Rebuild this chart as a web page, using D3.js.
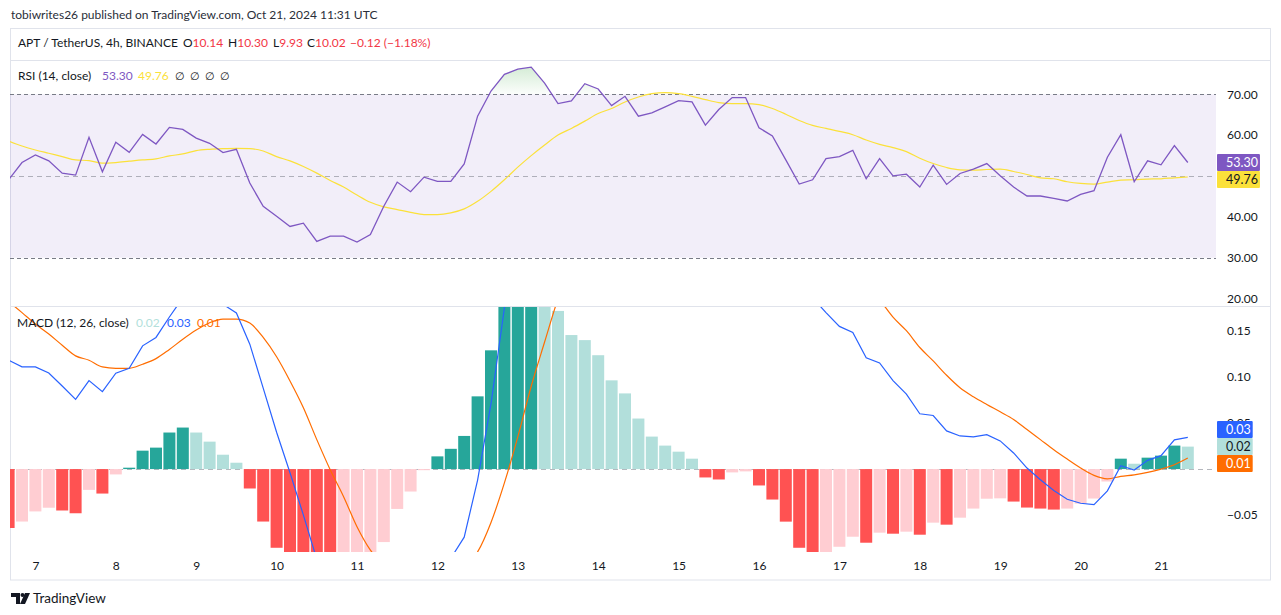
<!DOCTYPE html>
<html lang="en">
<head>
<meta charset="utf-8">
<title>APT / TetherUS, 4h - RSI and MACD</title>
<script src="https://cdn.jsdelivr.net/npm/d3@7/dist/d3.min.js"></script>
<style>
  body { margin: 0; background: #fff; }
  svg { display: block; font-family: Lato, "Noto Sans", sans-serif; }
</style>
</head>
<body>
<svg id="chart" width="1281" height="615"></svg>
<script>
// 4h bars, first one Oct 6 16:00 UTC, last one Oct 21 08:00 UTC
var firstBar = Date.UTC(2024, 9, 6, 16);
var barCount = 89;

var rsi = [49.08, 53.29, 55.16, 53.70, 50.70, 50.21, 59.46, 51.02, 58.24, 55.81,
           60.19, 57.83, 61.89, 61.40, 59.29, 58.00, 55.73, 56.54, 48.27, 42.59,
           40.15, 37.64, 38.45, 33.99, 35.29, 35.29, 33.83, 35.69, 42.59, 48.51,
           46.16, 49.72, 48.67, 48.67, 52.97, 64.65, 70.81, 74.87, 76.16, 76.65,
           72.76, 67.73, 68.38, 72.60, 71.30, 67.24, 69.51, 64.65, 65.46, 66.92,
           68.46, 68.13, 62.46, 66.27, 69.19, 69.19, 61.81, 59.78, 53.94, 48.02,
           49.08, 54.27, 54.75, 56.29, 49.32, 54.27, 50.05, 50.45, 47.29, 52.64,
           47.94, 50.62, 51.67, 53.05, 50.05, 47.29, 45.10, 45.10, 44.53, 43.89,
           45.51, 46.40, 54.59, 60.11, 48.59, 53.70, 52.73, 57.43, 53.30];

var rsiMa = [58.56, 57.35, 56.37, 55.56, 54.75, 53.94, 53.78, 53.13, 53.29, 53.62,
             53.94, 54.19, 54.92, 55.40, 56.21, 56.54, 56.70, 56.78, 56.70, 56.13,
             54.75, 53.70, 52.32, 50.70, 48.91, 47.29, 45.34, 43.56, 42.43, 41.78,
             41.10, 40.56, 40.56, 40.97, 41.94, 43.80, 46.24, 49.08, 52.16, 54.99,
             57.59, 60.02, 61.65, 63.43, 65.30, 66.51, 68.13, 69.35, 70.16, 70.41,
             70.16, 69.51, 68.70, 67.97, 67.73, 67.73, 67.49, 66.51, 65.13, 63.60,
             62.38, 61.65, 60.92, 60.11, 58.81, 57.75, 56.94, 55.97, 54.35, 53.05,
             52.08, 51.51, 51.43, 51.59, 51.67, 51.10, 50.37, 49.56, 49.32, 48.59,
             48.18, 48.02, 48.51, 48.99, 49.08, 49.24, 49.32, 49.56, 49.76];

var macd = [0.1183, 0.111, 0.111, 0.1044, 0.0903, 0.0757, 0.0961, 0.0841, 0.1041, 0.1095,
            0.1339, 0.143, 0.1652, 0.186, 0.191, 0.189, 0.179, 0.1696, 0.1357, 0.088,
            0.040, -0.004, -0.050, -0.098, -0.136, -0.158, -0.174, -0.181, -0.183, -0.158,
            -0.145, -0.124, -0.107, -0.097, -0.074, -0.012, 0.071, 0.175, 0.25, 0.322,
            0.343, 0.357, 0.368, 0.395, 0.407, 0.402, 0.407, 0.394, 0.383, 0.380,
            0.377, 0.371, 0.349, 0.344, 0.350, 0.351, 0.331, 0.308, 0.270, 0.221,
            0.186, 0.170, 0.155, 0.1485, 0.1208, 0.1153, 0.0961, 0.0815, 0.0601, 0.0582,
            0.0415, 0.036, 0.0349, 0.0373, 0.0306, 0.0175, 0.0011, -0.0116, -0.0233, -0.0328,
            -0.0371, -0.0386, -0.0237, 0.0036, -0.0011, 0.0095, 0.0146, 0.0317, 0.0345];

var signal = [0.182, 0.170, 0.1576, 0.1467, 0.1346, 0.123, 0.1183, 0.111, 0.1095, 0.1095,
              0.1139, 0.120, 0.130, 0.141, 0.151, 0.159, 0.163, 0.163, 0.1587, 0.143,
              0.122, 0.0957, 0.0666, 0.032, -0.0007, -0.030, -0.0626, -0.088, -0.104, -0.115,
              -0.121, -0.123, -0.121, -0.116, -0.106, -0.090, -0.058, -0.015, 0.035, 0.090,
              0.138, 0.185, 0.222, 0.255, 0.283, 0.306, 0.325, 0.339, 0.348, 0.354,
              0.358, 0.360, 0.358, 0.355, 0.354, 0.353, 0.349, 0.341, 0.327, 0.306,
              0.282, 0.259, 0.238, 0.220, 0.201, 0.184, 0.165, 0.1503, 0.1321, 0.1175,
              0.1019, 0.0884, 0.0786, 0.0702, 0.0622, 0.0539, 0.0429, 0.032, 0.0211, 0.0109,
              0.0011, -0.0069, -0.0106, -0.008, -0.0062, -0.0036, 0.0, 0.0047, 0.012];

var hist = [-0.064, -0.057, -0.046, -0.042, -0.045, -0.048, -0.0226, -0.0266, -0.0058, 0.0015,
            0.020, 0.0233, 0.0397, 0.0451, 0.0397, 0.0298, 0.0156, 0.0069, -0.0211, -0.057,
            -0.0855, -0.105, -0.118, -0.130, -0.134, -0.126, -0.112, -0.093, -0.0793, -0.0433,
            -0.0244, -0.0012, 0.0138, 0.022, 0.036, 0.079, 0.129, 0.19, 0.215, 0.232,
            0.205, 0.1718, 0.1456, 0.1401, 0.1237, 0.0964, 0.0822, 0.0549, 0.0353, 0.0255,
            0.0189, 0.0113, -0.0091, -0.0113, -0.0036, -0.0025, -0.0178, -0.0331, -0.0571, -0.0855,
            -0.097, -0.093, -0.0844, -0.0735, -0.080, -0.0691, -0.0702, -0.068, -0.0713, -0.0582,
            -0.0604, -0.0528, -0.0429, -0.0322, -0.0318, -0.0353, -0.0418, -0.0429, -0.044, -0.0429,
            -0.0375, -0.032, -0.0135, 0.0113, 0.0058, 0.0124, 0.0146, 0.0255, 0.0244];

var rsiTicks = [20, 30, 40, 60, 70];
var macdTicks = [-0.05, 0.05, 0.10, 0.15];
var rsiLevels = [70, 50, 30];

var dark = "#131722";
var maYellow = "#fbe13a";
var svg = d3.select("#chart");

var times = d3.range(barCount).map(function(i) { return new Date(firstBar + i * 4 * 3600 * 1000); });

var x = d3.scaleUtc()
    .domain([times[0], times[barCount - 1]])
    .range([8.6, 1187.8]);
var yRsi = d3.scaleLinear().domain([30, 70]).range([257.7, 94.3]);
var yMacd = d3.scaleLinear().domain([-0.05, 0.15]).range([515.1, 331.0]);

var defs = svg.append("defs");
defs.append("clipPath").attr("id", "rsiClip")
    .append("rect").attr("x", 10).attr("y", 61).attr("width", 1206).attr("height", 245);
defs.append("clipPath").attr("id", "obClip")
    .append("rect").attr("x", 10).attr("y", 61).attr("width", 1206).attr("height", yRsi(70) - 61);
defs.append("clipPath").attr("id", "macdClip")
    .append("rect").attr("x", 10).attr("y", 307).attr("width", 1206).attr("height", 245);
var grad = defs.append("linearGradient").attr("id", "obGrad")
    .attr("gradientUnits", "userSpaceOnUse")
    .attr("x1", 0).attr("x2", 0).attr("y1", yRsi(78)).attr("y2", yRsi(70));
grad.append("stop").attr("offset", 0).attr("stop-color", "rgba(76,175,80,0.28)");
grad.append("stop").attr("offset", 1).attr("stop-color", "rgba(76,175,80,0.02)");

// top caption
svg.append("text").attr("x", 11).attr("y", 19)
    .attr("font-size", "12px").attr("fill", "#2a2e39")
    .text("tobiwrites26 published on TradingView.com, Oct 21, 2024 11:31 UTC");

// frame
svg.append("rect").attr("x", 10.5).attr("y", 28.5).attr("width", 1260).attr("height", 551.5)
    .attr("fill", "none").attr("stroke", "#e0e3eb");
svg.append("line").attr("x1", 10).attr("x2", 1271).attr("y1", 60.5).attr("y2", 60.5).attr("stroke", "#e0e3eb");
svg.append("line").attr("x1", 10).attr("x2", 1271).attr("y1", 306.5).attr("y2", 306.5).attr("stroke", "#e0e3eb");

// header
var header = svg.append("text").attr("y", 46.5).attr("font-size", "12px").attr("fill", dark);
header.append("tspan").attr("x", 18).text("APT / TetherUS, 4h, BINANCE");
[["O", "10.14", 183], ["H", "10.30", 228], ["L", "9.93", 273], ["C", "10.02", 307]].forEach(function(p) {
  header.append("tspan").attr("x", p[2]).text(p[0]);
  header.append("tspan").attr("fill", "#f23645").text(p[1]);
});
header.append("tspan").attr("x", 350).attr("fill", "#f23645").text("\u22120.12 (\u22121.18%)");

// ---- RSI pane ----
var rsiG = svg.append("g").attr("clip-path", "url(#rsiClip)");
rsiG.append("rect").attr("x", 10).attr("width", 1206)
    .attr("y", yRsi(70)).attr("height", yRsi(30) - yRsi(70))
    .attr("fill", "rgba(126,87,194,0.1)");

rsiG.selectAll("line.level").data(rsiLevels).enter().append("line")
    .attr("class", "level")
    .attr("x1", 10).attr("x2", 1216)
    .attr("y1", function(d) { return Math.round(yRsi(d)) + 0.5; })
    .attr("y2", function(d) { return Math.round(yRsi(d)) + 0.5; })
    .attr("stroke", function(d) { return d == 50 ? "rgba(120,123,134,0.55)" : "#787b86"; })
    .attr("stroke-dasharray", function(d) { return d == 50 ? "5,4" : "4,3"; });

rsiG.append("path").datum(rsi)
    .attr("clip-path", "url(#obClip)")
    .attr("fill", "url(#obGrad)")
    .attr("d", d3.area()
        .x(function(d, i) { return x(times[i]); })
        .y0(yRsi(70))
        .y1(function(d) { return yRsi(d); }));

rsiG.append("path").datum(rsiMa)
    .attr("fill", "none").attr("stroke", maYellow).attr("stroke-width", 1.2)
    .attr("d", d3.line().curve(d3.curveMonotoneX)
        .x(function(d, i) { return x(times[i]); })
        .y(function(d) { return yRsi(d); }));

rsiG.append("path").datum(rsi)
    .attr("fill", "none").attr("stroke", "#7e57c2").attr("stroke-width", 1.3)
    .attr("d", d3.line()
        .x(function(d, i) { return x(times[i]); })
        .y(function(d) { return yRsi(d); }));

var rsiLegend = svg.append("text").attr("y", 79.5).attr("font-size", "12px").attr("fill", dark);
rsiLegend.append("tspan").attr("x", 18).text("RSI (14, close)");
rsiLegend.append("tspan").attr("x", 102).attr("fill", "#7e57c2").text(d3.format(".2f")(rsi[barCount - 1]));
rsiLegend.append("tspan").attr("x", 138).attr("fill", maYellow).text(d3.format(".2f")(rsiMa[barCount - 1]));
[175, 190, 205, 220].forEach(function(px) {
  rsiLegend.append("tspan").attr("x", px).attr("font-size", "11px").text("\u2205");
});

// ---- MACD pane ----
var macdG = svg.append("g").attr("clip-path", "url(#macdClip)");
macdG.append("line")
    .attr("x1", 10).attr("x2", 1216)
    .attr("y1", Math.round(yMacd(0)) + 0.5).attr("y2", Math.round(yMacd(0)) + 0.5)
    .attr("stroke", "rgba(120,123,134,0.55)").attr("stroke-dasharray", "5,4");

function histColor(d, i) {
  var prev = i > 0 ? hist[i - 1] : d + 1;
  if (d >= 0) return d >= prev ? "#26a69a" : "#b2dfdb";
  return d <= prev ? "#ff5252" : "#ffcdd2";
}

var barW = 12;
macdG.selectAll("rect.hist").data(hist).enter().append("rect")
    .attr("class", "hist")
    .attr("x", function(d, i) { return x(times[i]) - barW / 2; })
    .attr("width", barW)
    .attr("y", function(d) { return d >= 0 ? yMacd(d) : yMacd(0); })
    .attr("height", function(d) { return Math.abs(yMacd(d) - yMacd(0)); })
    .attr("fill", histColor);

macdG.append("path").datum(signal)
    .attr("fill", "none").attr("stroke", "#ff6d00").attr("stroke-width", 1.2)
    .attr("d", d3.line().curve(d3.curveMonotoneX)
        .x(function(d, i) { return x(times[i]); })
        .y(function(d) { return yMacd(d); }));

macdG.append("path").datum(macd)
    .attr("fill", "none").attr("stroke", "#2962ff").attr("stroke-width", 1.2)
    .attr("d", d3.line()
        .x(function(d, i) { return x(times[i]); })
        .y(function(d) { return yMacd(d); }));

var macdLegend = svg.append("text").attr("y", 326.5).attr("font-size", "12px").attr("fill", dark);
macdLegend.append("tspan").attr("x", 17).text("MACD (12, 26, close)");
macdLegend.append("tspan").attr("x", 136).attr("fill", "#b2dfdb").text(d3.format(".2f")(hist[barCount - 1]));
macdLegend.append("tspan").attr("x", 167).attr("fill", "#2962ff").text(d3.format(".2f")(macd[barCount - 1]));
macdLegend.append("tspan").attr("x", 197).attr("fill", "#ff6d00").text(d3.format(".2f")(signal[barCount - 1]));

// ---- axes ----
function styleAxis(g) {
  g.select(".domain").remove();
  g.selectAll("text").attr("fill", dark).attr("font-size", "12px").attr("font-family", "Lato, 'Noto Sans', sans-serif");
}

svg.append("g").attr("transform", "translate(1216,0)")
    .call(d3.axisRight(yRsi).tickValues(rsiTicks).tickFormat(d3.format(".2f")).tickSize(0).tickPadding(11))
    .call(styleAxis);

svg.append("g").attr("transform", "translate(1216,0)")
    .call(d3.axisRight(yMacd).tickValues(macdTicks).tickFormat(d3.format(".2f")).tickSize(0).tickPadding(11))
    .call(styleAxis);

svg.append("g").attr("transform", "translate(0,552)")
    .call(d3.axisBottom(x)
        .tickValues(d3.utcDays(Date.UTC(2024, 9, 7), Date.UTC(2024, 9, 21, 1)))
        .tickFormat(d3.utcFormat("%-d")).tickSize(0).tickPadding(9))
    .call(styleAxis);

// last value badges on the price axis; the first one of each group stays put
function badges(items, scale) {
  var h = 17;
  var ys = items.map(function(it) { return scale(it.v); });
  var placed = [ys[0]];
  for (var i = 1; i < items.length; i++) {
    var y = ys[i];
    placed.forEach(function(p) {
      if (Math.abs(y - p) < h) y = y < p ? p - h : p + h;
    });
    placed.forEach(function(p) {
      if (Math.abs(y - p) < h - 0.1) y = y < p ? p - h : p + h;
    });
    placed.push(y);
  }
  items.forEach(function(it, i) {
    var g = svg.append("g").attr("transform", "translate(1217," + (placed[i] - h / 2) + ")");
    var rect = g.append("rect").attr("height", h).attr("fill", it.fill).attr("rx", 1);
    var t = g.append("text").attr("x", 9).attr("y", h / 2).attr("dy", "0.35em")
        .attr("font-size", "12.5px").attr("fill", it.text).text(d3.format(".2f")(it.v));
    rect.attr("width", t.node().getComputedTextLength() + 11);
  });
}

badges([{ v: rsi[barCount - 1], fill: "#7e57c2", text: "#fff" },
        { v: rsiMa[barCount - 1], fill: maYellow, text: dark }], yRsi);
badges([{ v: hist[barCount - 1], fill: "#b2dfdb", text: dark },
        { v: macd[barCount - 1], fill: "#2962ff", text: "#fff" },
        { v: signal[barCount - 1], fill: "#ff6d00", text: "#fff" }], yMacd);

// footer logo
var logo = svg.append("g").attr("fill", dark);
logo.append("path").attr("d", "M11,593 h9 v11 h-4 v-7 h-5 z");
logo.append("circle").attr("cx", 22.5).attr("cy", 595).attr("r", 2);
logo.append("path").attr("d", "M25,593 h5 l-5,11 h-5 z");
svg.append("text").attr("x", 33).attr("y", 603).attr("font-size", "13.5px").attr("fill", dark).text("TradingView");
</script>
</body>
</html>
